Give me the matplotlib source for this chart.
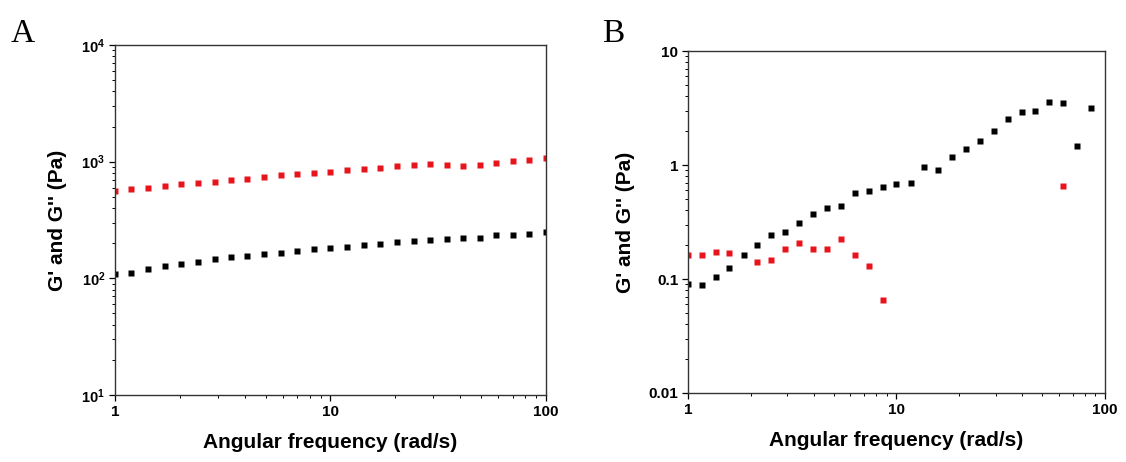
import numpy as np
import matplotlib
matplotlib.use("Agg")
import matplotlib.pyplot as plt
from matplotlib.ticker import FixedLocator, FixedFormatter, LogLocator, NullFormatter

plt.rcParams['font.family'] = ['Liberation Sans', 'DejaVu Sans']
plt.rcParams['mathtext.fontset'] = 'custom'
plt.rcParams['mathtext.rm'] = 'Liberation Sans:bold'
plt.rcParams['mathtext.bf'] = 'Liberation Sans:bold'
plt.rcParams['mathtext.default'] = 'bf'

# panel A: frequency sweep, G' (red) and G'' (black)
freq_a = [1.00, 1.19, 1.43, 1.70, 2.03, 2.43, 2.90, 3.46, 4.12, 4.92, 5.88, 7.02, 8.38,
          10.0, 11.9, 14.3, 17.0, 20.3, 24.3, 29.0, 34.6, 41.2, 49.2, 58.8, 70.2, 83.8, 100.0]
gp_a = [561, 579, 599, 618, 648, 661, 674, 692, 706, 739, 764, 784, 800, 821,
        843, 860, 889, 918, 936, 955, 936, 918, 936, 968, 1007, 1040, 1082]
gpp_a = [108, 112, 121, 128, 134, 138, 146, 152, 155, 162, 166, 171, 177, 183,
         187, 192, 198, 205, 209, 214, 217, 220, 223, 234, 235, 240, 250]

# panel B
freq_b = [1.00, 1.17, 1.36, 1.58, 1.85, 2.15, 2.51, 2.93, 3.41, 3.98, 4.64, 5.41, 6.31, 7.36, 8.58,
          10.0, 11.7, 13.6, 15.8, 18.5, 21.5, 25.1, 29.3, 34.1, 39.8, 46.4, 54.1, 63.1, 73.6, 85.8]
gp_b = [0.161, 0.164, 0.172, 0.170, np.nan, 0.140, 0.148, 0.184, 0.207, 0.184, 0.184, 0.225, 0.161,
        0.129, 0.0655, np.nan, np.nan, np.nan, np.nan, np.nan, np.nan, np.nan, np.nan, np.nan,
        np.nan, np.nan, np.nan, 0.653, np.nan, np.nan]
gpp_b = [0.0906, 0.0894, 0.1037, 0.126, 0.164, 0.197, 0.241, 0.261, 0.311, 0.373, 0.421, 0.435,
         0.574, 0.590, 0.648, 0.680, 0.698, 0.958, 0.908, 1.17, 1.39, 1.64, 2.01, 2.55, 2.91,
         3.01, 3.57, 3.52, 1.46, 3.18]

red = '#e8141b'
fig = plt.figure(figsize=(11.26, 4.62), dpi=100)
ax1 = fig.add_axes([0.1021, 0.145, 0.3828, 0.7576])
ax2 = fig.add_axes([0.611, 0.1494, 0.3703, 0.740])


def style(ax):
    ax.set_xscale('log')
    ax.set_yscale('log')
    for s in ax.spines.values():
        s.set_linewidth(1.0)
        s.set_color('#333333')
    ax.tick_params(which='major', direction='out', length=4, width=0.9, labelsize=11,
                   top=False, right=False, pad=3)
    ax.tick_params(which='minor', direction='out', length=2.2, width=0.7, top=False, right=False)
    ax.xaxis.set_minor_locator(LogLocator(base=10, subs=np.arange(2, 10)))
    ax.yaxis.set_minor_locator(LogLocator(base=10, subs=np.arange(2, 10)))
    ax.xaxis.set_minor_formatter(NullFormatter())
    ax.yaxis.set_minor_formatter(NullFormatter())
    ax.xaxis.set_major_locator(FixedLocator([1, 10, 100]))
    ax.xaxis.set_major_formatter(FixedFormatter(['1', '10', '100']))
    for lbl in ax.get_xticklabels() + ax.get_yticklabels():
        lbl.set_fontweight('bold')
    ax.set_xlabel('Angular frequency (rad/s)', fontsize=15, fontweight='bold', labelpad=10)
    ax.set_ylabel("G' and G'' (Pa)", fontsize=15, fontweight='bold', labelpad=10)


# A
ax1.plot(freq_a, gp_a, 's', color=red, ms=3.9, mec='none')
ax1.plot(freq_a, gpp_a, 's', color='black', ms=3.9, mec='none')
ax1.set_xlim(1, 100)
ax1.set_ylim(10, 1e4)
style(ax1)
ax1.yaxis.set_major_locator(FixedLocator([10, 100, 1000, 10000]))
ax1.yaxis.set_major_formatter(FixedFormatter([r'$10^1$', r'$10^2$', r'$10^3$', r'$10^4$']))
ax1.tick_params(axis='y', labelsize=10.5)

# B
ax2.plot(freq_b, gp_b, 's', color=red, ms=4.8, mec='none')
ax2.plot(freq_b, gpp_b, 's', color='black', ms=4.8, mec='none')
ax2.set_xlim(1, 100)
ax2.set_ylim(0.01, 10)
style(ax2)
ax2.yaxis.set_major_locator(FixedLocator([0.01, 0.1, 1, 10]))
ax2.yaxis.set_major_formatter(FixedFormatter(['0.01', '0.1', '1', '10']))
for lbl in ax2.get_yticklabels():
    lbl.set_fontweight('bold')

fig.text(0.009, 0.91, 'A', fontsize=24, family='Liberation Serif')
fig.text(0.535, 0.91, 'B', fontsize=24, family='Liberation Serif')

fig.savefig('out.png', dpi=100)
